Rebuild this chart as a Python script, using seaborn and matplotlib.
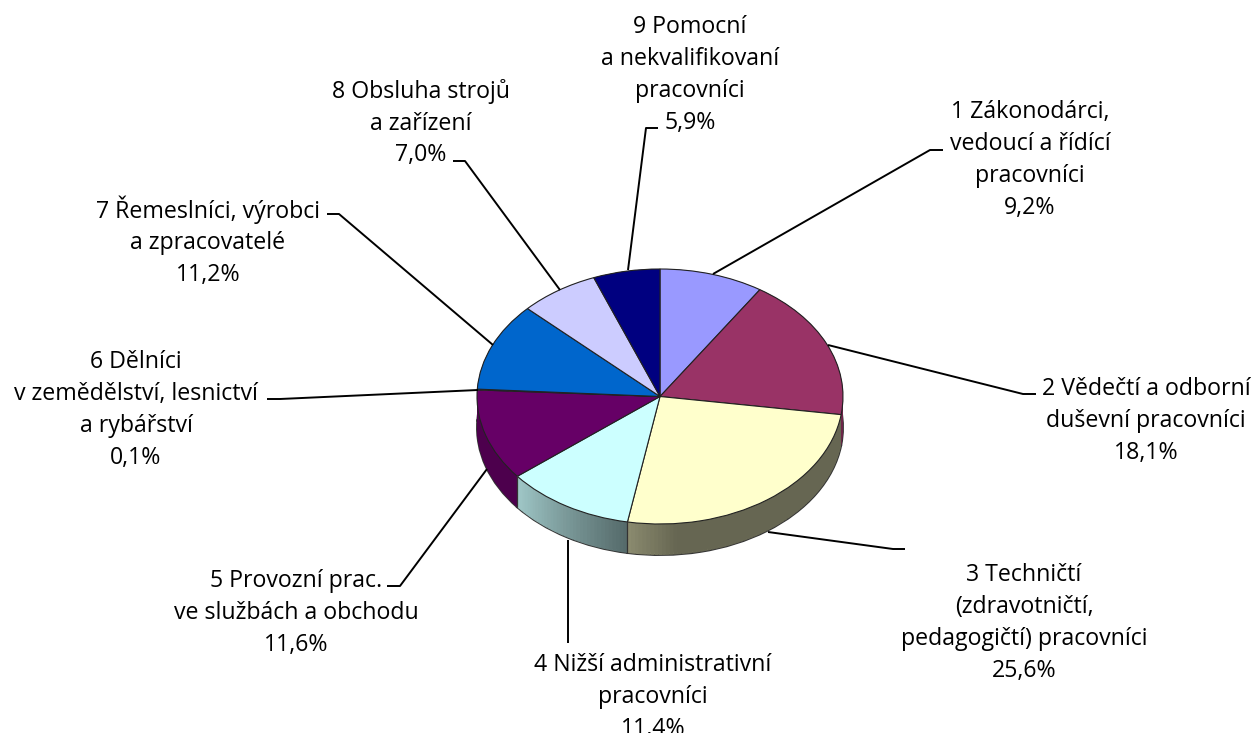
import numpy as np
import matplotlib
matplotlib.use('Agg')
import matplotlib.pyplot as plt
import seaborn as sns

labels = ['1 Zákonodárci,\nvedoucí a řídící\npracovníci\n9,2%',
          '2 Vědečtí a odborní\nduševní pracovníci\n18,1%',
          '3 Techničtí\n(zdravotničtí,\npedagogičtí) pracovníci\n25,6%',
          '4 Nižší administrativní\npracovníci\n11,4%',
          '5 Provozní prac.\nve službách a obchodu\n11,6%',
          '6 Dělníci\nv zemědělství, lesnictví\na rybářství\n0,1%',
          '7 Řemeslníci, výrobci\na zpracovatelé\n11,2%',
          '8 Obsluha strojů\na zařízení\n7,0%',
          '9 Pomocní\na nekvalifikovaní\npracovníci\n5,9%']
values = [9.2, 18.1, 25.6, 11.4, 11.6, 0.1, 11.2, 7.0, 5.9]
colors = ['#9999FF', '#993366', '#FFFFCC', '#CCFFFF', '#660066',
          '#FF8080', '#0066CC', '#CCCCFF', '#000080']

# label centres and leader lines, in pixels of the 1254x733 picture
label_pos = [(1030, 160), (1146, 421), (1024, 623), (653, 697), (296, 613),
             (136, 410), (208, 241), (421, 123), (690, 75)]
leaders = [[(713, 274), (930, 150), (943, 150)],
           [(828, 345), (1023, 394), (1036, 394)],
           [(768, 532), (893, 549), (905, 549)],
           [(568, 540), (568, 643)],
           [(487, 469), (400, 586), (387, 586)],
           [(478, 390), (280, 399), (267, 399)],
           [(493, 345), (339, 214), (327, 214)],
           [(560, 290), (465, 161), (453, 161)],
           [(628, 270), (646, 128), (658, 128)]]

W, H = 1254, 733
CX, CY, RX, RY, DEPTH = 660, 396.5, 183, 127.5, 31

sns.set_theme(style='white')
plt.rcParams['font.family'] = ['Open Sans', 'DejaVu Sans']

fig, ax = plt.subplots(figsize=(W / 100, H / 100), dpi=100)
fig.subplots_adjust(0, 0, 1, 1)
ax.axis('off')


def px(x, y):
    return (x - CX) / RX, (CY - y) / RY


def shade(col, t):
    return tuple(np.array(matplotlib.colors.to_rgb(col)) * t)


# the side: each slice cut into thin pieces so it can carry a gradient
side_vals, side_cols = [], []
for i, (v, c) in enumerate(zip(values, colors)):
    n = max(int(v * 3), 1)
    for k in range(n):
        t = k / max(n - 1, 1)
        if i == 2:
            f = 0.4 + 0.14 * max(1 - (1 - t) * 6, 0)
        elif i == 3:
            f = 0.42 + 0.36 * t
        elif i == 4:
            f = 0.75
        else:
            f = 0.72
        side_vals.append(v / n)
        side_cols.append(shade(c, f))

depth = DEPTH / RY
ax.pie(values, colors=colors, startangle=90, counterclock=False,
       center=(0, -depth), radius=1,
       wedgeprops=dict(edgecolor='#333333', linewidth=1.4))
for d in np.linspace(depth, 0, 32):
    ax.pie(side_vals, colors=side_cols, startangle=90, counterclock=False,
           center=(0, -d), radius=1, wedgeprops=dict(linewidth=0))

# edges between the side faces
cum = np.cumsum(values)
for v in cum[2:4]:
    a = v / 100 * 2 * np.pi
    ax.plot([np.sin(a)] * 2, [np.cos(a), np.cos(a) - depth], color='#333333', lw=0.9)

ax.pie(values, colors=colors, startangle=90, counterclock=False,
       wedgeprops=dict(edgecolor='#222222', linewidth=0.8))

ax.set_aspect('auto')
ax.set_xlim(-CX / RX, (W - CX) / RX)
ax.set_ylim((CY - H) / RY, CY / RY)

for line in leaders:
    pts = np.array([px(*p) for p in line])
    ax.plot(pts[:, 0], pts[:, 1], color='black', lw=1.4, solid_capstyle='butt')

for lab, p in zip(labels, label_pos):
    x, y = px(*p)
    ax.text(x, y, lab, ha='center', va='center', fontsize=16.7, color='black',
            linespacing=1.43, clip_on=False)

fig.savefig('out.png', dpi=100)
plt.close()
